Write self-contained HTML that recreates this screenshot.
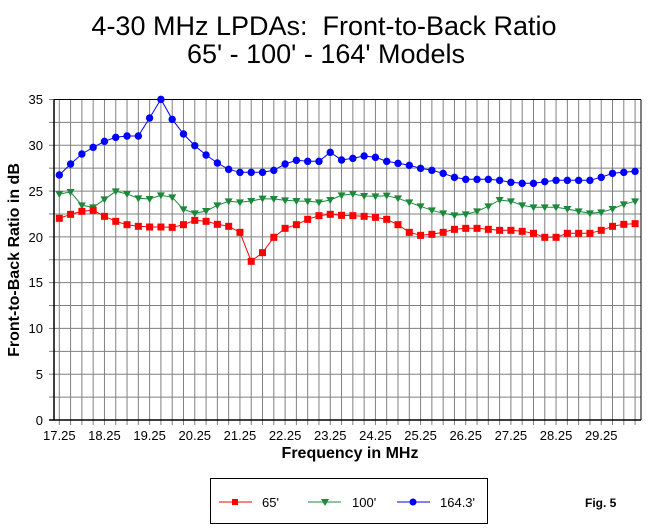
<!DOCTYPE html>
<html><head><meta charset="utf-8"><style>
html,body{margin:0;padding:0;background:#fff;}
svg{display:block;font-family:"Liberation Sans",Arial,sans-serif;}
</style></head><body>
<svg id="s" width="648" height="529" viewBox="0 0 648 529" xmlns="http://www.w3.org/2000/svg">
<rect width="648" height="529" fill="#fff"/>
<text x="324" y="35" font-size="27" text-anchor="middle">4-30 MHz LPDAs:&#160; Front-to-Back Ratio</text>
<text x="326" y="63" font-size="27" text-anchor="middle">65' - 100' - 164' Models</text>
<g id="grid"></g>
<g font-size="13" text-anchor="end">
<text x="43" y="425">0</text><text x="43" y="379">5</text><text x="43" y="333">10</text><text x="43" y="287">15</text>
<text x="43" y="242">20</text><text x="43" y="196">25</text><text x="43" y="150">30</text><text x="43" y="104">35</text>
</g>
<g font-size="13" text-anchor="middle" id="xl"></g>
<text x="350" y="458" font-size="16" font-weight="bold" text-anchor="middle">Frequency in MHz</text>
<text transform="translate(19,260) rotate(-90)" font-size="16" font-weight="bold" text-anchor="middle">Front-to-Back Ratio in dB</text>
<g id="series"></g>
<rect x="210.5" y="478.5" width="277" height="45" fill="none" stroke="#000"/>
<line x1="219" y1="502" x2="252" y2="502" stroke="#f00"/><rect x="232" y="499" width="6" height="6" fill="#f00"/>
<text x="262" y="507" font-size="13">65'</text>
<line x1="308" y1="502" x2="341" y2="502" stroke="#1a8a3a"/><polygon points="321,499 329,499 325,506" fill="#1a8a3a"/>
<text x="352" y="507" font-size="13">100'</text>
<line x1="397" y1="502" x2="430" y2="502" stroke="#00f"/><circle cx="413" cy="502" r="3.5" fill="#00f"/>
<text x="440" y="507" font-size="13">164.3'</text>
<text x="585" y="507" font-size="12" font-weight="bold">Fig. 5</text>
</svg>
<script>
var NS="http://www.w3.org/2000/svg";
function el(p,t,a){var e=document.createElementNS(NS,t);for(var k in a)e.setAttribute(k,a[k]);p.appendChild(e);return e;}
var g=document.getElementById('grid');
var L=54,R=641,T=99.5,B=420,dx=11.29,x0=59.3;
for(var i=0;i<=51;i++){var x=x0+i*dx;el(g,'line',{x1:x,y1:T,x2:x,y2:B,stroke:'#808080','stroke-width':1});el(g,'line',{x1:x,y1:B,x2:x,y2:B+5,stroke:'#808080'});}
for(var j=1;j<=14;j++){var y=B-j*(B-T)/14;el(g,'line',{x1:L,y1:y,x2:R,y2:y,stroke:'#808080'});el(g,'line',{x1:L-5,y1:y,x2:L,y2:y,stroke:'#808080'});}
el(g,'line',{x1:L-5,y1:B,x2:R,y2:B,stroke:'#000','stroke-width':1.5});
el(g,'line',{x1:L,y1:T,x2:L,y2:B,stroke:'#000','stroke-width':1.5});
el(g,'line',{x1:R,y1:T,x2:R,y2:B,stroke:'#000'});
el(g,'line',{x1:L,y1:T,x2:R,y2:T,stroke:'#000'});
var xl=document.getElementById('xl');
for(var m=0;m<13;m++){var t=el(xl,'text',{x:x0+m*4*dx,y:440});t.textContent=(17.25+m).toFixed(2);}
var blue=[255,222,192,172,154,142,138,138,84,28,88,132,167,195,219,238,247,247,247,241,222,211,214,214,187].map(function(v){return 90+v/3;}).concat([210,205,198,202,214,220,226,235,241,250,262,268,268,268,271,277,280,280,275,271,271,271,271,262,250,247,244].map(function(v){return 90+v/3;}));
var green=[312,306,346,352,328,304,312,325,327,316,322,358,370,363,346,334,337,333,326,327,331,333,334,337,330].map(function(v){return 90+v/3;}).concat([316,312,318,319,317,325,337,349,361,370,376,373,364,349,330,334,346,352,352,352,357,364,370,367,357,343,334].map(function(v){return 90+v/3;}));
var red=[385,373,364,361,379,394,404,409,411,411,412,404,391,394,403,409,427,514,488,442,415,404,388,377,373].map(function(v){return 90+v/3;}).concat([376,377,379,382,388,404,427,436,433,427,418,415,415,418,421,421,424,430,442,442,430,430,430,421,409,403,401].map(function(v){return 90+v/3;}));
var S=document.getElementById('series');
function draw(d,c,type){var pts=d.map(function(y,i){return (x0+i*dx).toFixed(1)+','+y.toFixed(1);}).join(' ');
el(S,'polyline',{points:pts,fill:'none',stroke:c,'stroke-width':1});
d.forEach(function(y,i){var x=x0+i*dx;
if(type=='s')el(S,'rect',{x:x-3.5,y:y-3.5,width:7,height:7,fill:c});
else if(type=='c')el(S,'circle',{cx:x,cy:y,r:3.7,fill:c});
else el(S,'polygon',{points:(x-4)+','+(y-3)+' '+(x+4)+','+(y-3)+' '+x+','+(y+4),fill:c});});}
draw(green,'#1a8a3a','t');draw(red,'#f00','s');draw(blue,'#00f','c');
</script>
</body></html>
